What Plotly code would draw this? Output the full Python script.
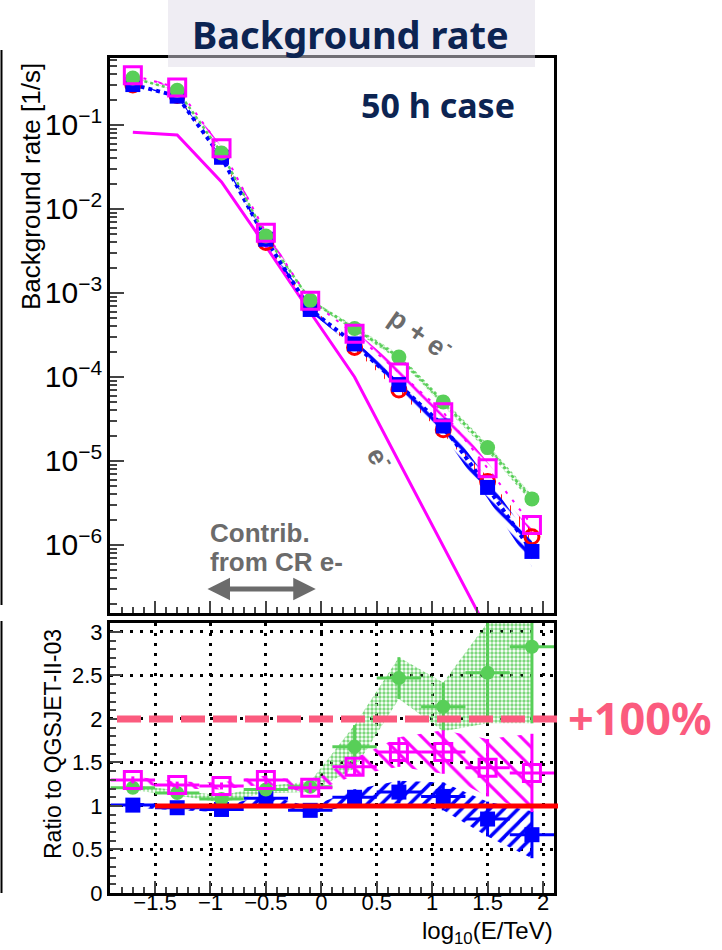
import math
import plotly.graph_objects as go

# ---------------------------------------------------------------- data
# log10(E/TeV) bin centres and half widths
energy = [-1.7, -1.3, -0.9, -0.5, -0.1, 0.3, 0.7, 1.1, 1.5, 1.9]
bin_half_width = [0.2, 0.2, 0.2, 0.2, 0.2, 0.2, 0.2, 0.2, 0.2, 0.2]

# QGSJET-II-03 reference background rate [1/s]
rate_qgsjet = [0.30, 0.225, 0.043, 0.0040, 6.7e-4, 2.25e-4, 7.0e-5, 2.35e-5, 5.7e-6, 1.25e-6]
# cosmic-ray electron contribution [1/s]
rate_electron = [0.082, 0.076, 0.021, 3.6e-3, 5.9e-4, 1.0e-4, 9.8e-6, 9.6e-7, 9.5e-8, 9.4e-9]

# ratio of each hadronic model to QGSJET-II-03
ratio_blue = [1.01, 0.98, 0.96, 1.09, 0.95, 1.10, 1.16, 1.11, 0.85, 0.67]
ratio_green = [1.21, 1.15, 1.08, 1.19, 1.22, 1.68, 2.47, 2.14, 2.53, 2.83]
ratio_magenta = [1.30, 1.24, 1.23, 1.30, 1.21, 1.45, 1.62, 1.62, 1.44, 1.38]

# uncertainties on the ratios
err_blue = [0.03, 0.03, 0.03, 0.04, 0.04, 0.09, 0.13, 0.16, 0.20, 0.27]
err_green = [0.03, 0.03, 0.04, 0.04, 0.06, 0.25, 0.24, 0.28, 0.58, 0.88]
err_magenta = [0.04, 0.04, 0.04, 0.05, 0.06, 0.10, 0.17, 0.25, 0.33, 0.45]

# relative uncertainty bands on the rates
relerr_qgsjet = [0.02, 0.02, 0.03, 0.03, 0.04, 0.06, 0.08, 0.10, 0.12, 0.15]
relerr_blue = [0.02, 0.02, 0.03, 0.05, 0.06, 0.10, 0.16, 0.20, 0.26, 0.34]
relerr_green = [0.01, 0.01, 0.02, 0.03, 0.04, 0.07, 0.08, 0.09, 0.10, 0.11]
relerr_magenta = [0.03, 0.03, 0.04, 0.05, 0.06, 0.10, 0.12, 0.15, 0.18, 0.20]

# x tick labels of the ratio panel
xtick_values = [-1.5, -1.0, -0.5, 0.0, 0.5, 1.0, 1.5, 2.0]
xtick_labels = ["\u22121.5", "\u22121", "\u22120.5", "0", "0.5", "1", "1.5", "2"]

doubling_level = 2.0      # "+100%" guide line
reference_level = 1.0     # QGSJET-II-03 itself

# ---------------------------------------------------------------- style
BLUE = "#0000ff"
RED = "#ff0000"
GREEN = "#58cf58"
GREEN_FILL = "#7cd77c"
MAGENTA = "#ff00ff"
PINK = "#fb5b7e"
GRAY = "#6b6b6b"
NAVY = "#0c2452"
ROOT_FONT = "Liberation Sans"
TITLE_FONT = "Noto Sans"

W, H = 722, 950
X_RANGE = [-1.906, 2.099]
PLOT_L, PLOT_R = 110, 554


def px(x):
    return x / W


def py(y):
    return 1 - y / H


def x_to_paper(v):
    return px(PLOT_L + (v - X_RANGE[0]) / (X_RANGE[1] - X_RANGE[0]) * (PLOT_R - PLOT_L))


def scaled(base, factors):
    return [b * f for b, f in zip(base, factors)]


def band_polygon(xs, lo, hi):
    return xs + xs[::-1], hi + lo[::-1]


rate_blue = scaled(rate_qgsjet, ratio_blue)
rate_green = scaled(rate_qgsjet, ratio_green)
rate_magenta = scaled(rate_qgsjet, ratio_magenta)

fig = go.Figure()


def pattern(color, shape, size, solidity):
    return dict(shape=shape, fgcolor=color, bgcolor="rgba(0,0,0,0)",
                size=size, solidity=solidity, fgopacity=1)


# ---------------------------------------------------------------- upper panel: rates
def rate_band(rate, rel, color, shape, size, solidity):
    lo = [r * (1 - e) for r, e in zip(rate, rel)]
    hi = [r * (1 + e) for r, e in zip(rate, rel)]
    bx, by = band_polygon(energy, lo, hi)
    fig.add_trace(go.Scatter(
        x=bx, y=by, xaxis="x", yaxis="y", mode="lines", fill="toself",
        fillcolor="rgba(0,0,0,0)", line=dict(width=0),
        fillpattern=pattern(color, shape, size, solidity),
        hoverinfo="skip", showlegend=False))


rate_band(rate_green, relerr_green, GREEN_FILL, ".", 4, 0.5)
rate_band(rate_magenta, relerr_magenta, MAGENTA, "\\", 18, 0.15)
rate_band(rate_qgsjet, relerr_qgsjet, RED, "|", 9, 0.1)
rate_band(rate_blue, relerr_blue, BLUE, "\\", 9, 0.4)

# electron-only contribution
fig.add_trace(go.Scatter(x=energy, y=rate_electron, xaxis="x", yaxis="y", mode="lines",
                         line=dict(color=MAGENTA, width=3), name="e-"))

# connecting lines for p + e-
fig.add_trace(go.Scatter(x=energy, y=rate_blue, xaxis="x", yaxis="y", mode="lines",
                         line=dict(color=BLUE, width=4, dash="dot"), showlegend=False))
fig.add_trace(go.Scatter(x=energy, y=rate_green, xaxis="x", yaxis="y", mode="lines",
                         line=dict(color=GREEN, width=2.5, dash="dot"), showlegend=False))
fig.add_trace(go.Scatter(x=energy, y=rate_magenta, xaxis="x", yaxis="y", mode="lines",
                         line=dict(color=MAGENTA, width=2, dash="3px,8px"), showlegend=False))

# markers
fig.add_trace(go.Scatter(x=energy, y=rate_qgsjet, xaxis="x", yaxis="y", mode="markers",
                         marker=dict(symbol="circle-open", size=14, color=RED, line=dict(width=3)),
                         name="QGSJET-II-03"))
fig.add_trace(go.Scatter(x=energy, y=rate_blue, xaxis="x", yaxis="y", mode="markers",
                         marker=dict(symbol="square", size=15, color=BLUE), name="model blue"))
fig.add_trace(go.Scatter(x=energy, y=rate_green, xaxis="x", yaxis="y", mode="markers",
                         marker=dict(symbol="circle", size=15, color=GREEN), name="model green"))
fig.add_trace(go.Scatter(x=energy, y=rate_magenta, xaxis="x", yaxis="y", mode="markers",
                         marker=dict(symbol="square-open", size=17, color=MAGENTA, line=dict(width=3)),
                         name="model magenta"))

# ---------------------------------------------------------------- lower panel: ratios
def ratio_band(ratio, err, color, shape, size, solidity):
    lo = [r - e for r, e in zip(ratio, err)]
    hi = [r + e for r, e in zip(ratio, err)]
    bx, by = band_polygon(energy, lo, hi)
    fig.add_trace(go.Scatter(
        x=bx, y=by, xaxis="x2", yaxis="y2", mode="lines", fill="toself",
        fillcolor="rgba(0,0,0,0)", line=dict(width=0),
        fillpattern=pattern(color, shape, size, solidity),
        hoverinfo="skip", showlegend=False))


ratio_band(ratio_green, err_green, GREEN_FILL, ".", 4, 0.55)
ratio_band(ratio_magenta, err_magenta, MAGENTA, "\\", 14, 0.22)
ratio_band(ratio_blue, err_blue, BLUE, "/", 10, 0.35)


def ratio_points(ratio, err, color, marker, xaxis="x2"):
    fig.add_trace(go.Scatter(
        x=energy, y=ratio, xaxis=xaxis, yaxis="y2", mode="markers", marker=marker,
        error_x=dict(type="data", array=bin_half_width, color=color, thickness=3, width=0),
        error_y=dict(type="data", array=err, color=color, thickness=3, width=0),
        showlegend=False))


ratio_points(ratio_blue, err_blue, BLUE, dict(symbol="square", size=15, color=BLUE))
ratio_points(ratio_green, err_green, GREEN, dict(symbol="circle", size=14, color=GREEN))
ratio_points(ratio_magenta, err_magenta, MAGENTA,
             dict(symbol="square-open", size=17, color=MAGENTA, line=dict(width=3)))
# the tick-label axis of the ratio panel needs a trace of its own to be drawn
fig.add_trace(go.Scatter(x=energy, y=ratio_blue, xaxis="x3", yaxis="y2", mode="markers",
                         marker=dict(opacity=0), hoverinfo="skip", showlegend=False))

# ---------------------------------------------------------------- axes
frame = dict(showline=True, linecolor="black", linewidth=3, mirror=True, zeroline=False)
tickfont_y = dict(family=ROOT_FONT, size=22, color="black")
tickfont_x = dict(family=ROOT_FONT, size=22, color="black")

fig.update_layout(
    width=W, height=H, autosize=False,
    margin=dict(l=0, r=0, t=0, b=0),
    paper_bgcolor="white", plot_bgcolor="white",
    showlegend=False,
    xaxis=dict(domain=[px(PLOT_L), px(PLOT_R)], range=X_RANGE, anchor="y",
               showticklabels=False, ticks="inside", ticklen=12, tickwidth=2,
               tick0=0, dtick=0.5, showgrid=False, automargin=False,
               minor=dict(ticks="inside", ticklen=6, tickwidth=2, dtick=0.1), **frame),
    yaxis=dict(domain=[py(613), py(58)], type="log", range=[-6.81, -0.2024], anchor="x",
               ticks="inside", ticklen=14, tickwidth=2, dtick=1, exponentformat="power",
               tickfont=dict(family=ROOT_FONT, size=24, color="black"),
               showgrid=False, automargin=False,
               minor=dict(ticks="inside", ticklen=7, tickwidth=2, dtick="D1"), **frame),
    xaxis2=dict(domain=[px(PLOT_L), px(PLOT_R)], range=X_RANGE, anchor="y2",
                ticks="inside", ticklen=12, tickwidth=2, tick0=0, dtick=0.5,
                showticklabels=False, showgrid=True, gridcolor="black", gridwidth=2.5,
                griddash="3px,7px", automargin=False,
                minor=dict(ticks="inside", ticklen=6, tickwidth=2, dtick=0.1, showgrid=False),
                **frame),
    # labels of the ratio x axis, sitting slightly closer to the frame
    xaxis3=dict(domain=[px(PLOT_L), px(PLOT_R)], range=X_RANGE, overlaying="x2",
                anchor="free", position=py(887), side="bottom",
                tickmode="array", tickvals=xtick_values, ticktext=xtick_labels,
                ticks="", tickfont=tickfont_x, showline=False, showgrid=False,
                zeroline=False, automargin=False),
    yaxis2=dict(domain=[py(893), py(623)], range=[0, 3.103], anchor="x2",
                ticks="inside", ticklen=12, tickwidth=2, tick0=0, dtick=0.5,
                tickfont=tickfont_y, showgrid=True, gridcolor="black", gridwidth=2.5,
                griddash="3px,7px", automargin=False,
                minor=dict(ticks="inside", ticklen=6, tickwidth=2, dtick=0.1, showgrid=False),
                **frame),
)

# ---------------------------------------------------------------- guide lines and title box
fig.add_shape(type="line", xref="paper", yref="y2", layer="above",
              x0=px(117), x1=px(557), y0=doubling_level, y1=doubling_level,
              line=dict(color=PINK, width=7, dash="24px,8px"))
fig.add_shape(type="line", xref="paper", yref="y2", layer="above",
              x0=x_to_paper(-1.5), x1=px(558), y0=reference_level, y1=reference_level,
              line=dict(color=RED, width=5))
fig.add_shape(type="rect", xref="paper", yref="paper", layer="above",
              x0=px(168), x1=px(535), y0=py(67), y1=py(0),
              fillcolor="#dfdbe7", opacity=0.5, line=dict(width=0))
# neighbouring panel edge
for y0, y1 in [(50, 605), (621, 893)]:
    fig.add_shape(type="line", xref="paper", yref="paper", x0=px(1.5), x1=px(1.5),
                  y0=py(y0), y1=py(y1), line=dict(color="black", width=2))

# ---------------------------------------------------------------- text
def note(text, x, y, size, color="black", family=ROOT_FONT, xanchor="center",
         textangle=0, yanchor="middle"):
    fig.add_annotation(text=text, x=x, y=y, xref="paper", yref="paper", showarrow=False,
                       xanchor=xanchor, yanchor=yanchor, textangle=textangle,
                       font=dict(family=family, size=size, color=color))


note("<b>Background rate</b>", px(350), py(34), 38, NAVY, TITLE_FONT)
note("<b>50 h case</b>", px(359), py(105), 34, NAVY, TITLE_FONT, xanchor="left")
note("<b>+100%</b>", px(566), py(717), 45, PINK, TITLE_FONT, xanchor="left")
note("Background rate [1/s]", px(31), py(187), 26, textangle=-90)
note("Ratio to QGSJET-II-03", px(53), py(744), 23, textangle=-90)
note("log<sub>10</sub>(E/TeV)", px(555), py(932), 24, xanchor="right")
note("<b>Contrib.</b>", px(208), py(533), 26, GRAY, xanchor="left")
note("<b>from CR e-</b>", px(208), py(562), 26, GRAY, xanchor="left")
note("<b>p + e<sup>-</sup></b>", px(421), py(332), 27, GRAY, textangle=35)
note("<b>e<sup>-</sup></b>", px(381), py(458), 27, GRAY, textangle=60)

# double arrow for the electron-dominated range
arrow_span = [-1.04, -0.05]
arrow_level = 3.0e-7
fig.add_annotation(x=arrow_span[1], y=math.log10(arrow_level), ax=arrow_span[0],
                   ay=math.log10(arrow_level), xref="x", yref="y", axref="x", ayref="y",
                   text="", showarrow=True, arrowhead=2, startarrowhead=2,
                   arrowside="end+start", arrowsize=0.9, startarrowsize=0.9,
                   arrowwidth=5, arrowcolor=GRAY)

fig.write_html("out.html")
